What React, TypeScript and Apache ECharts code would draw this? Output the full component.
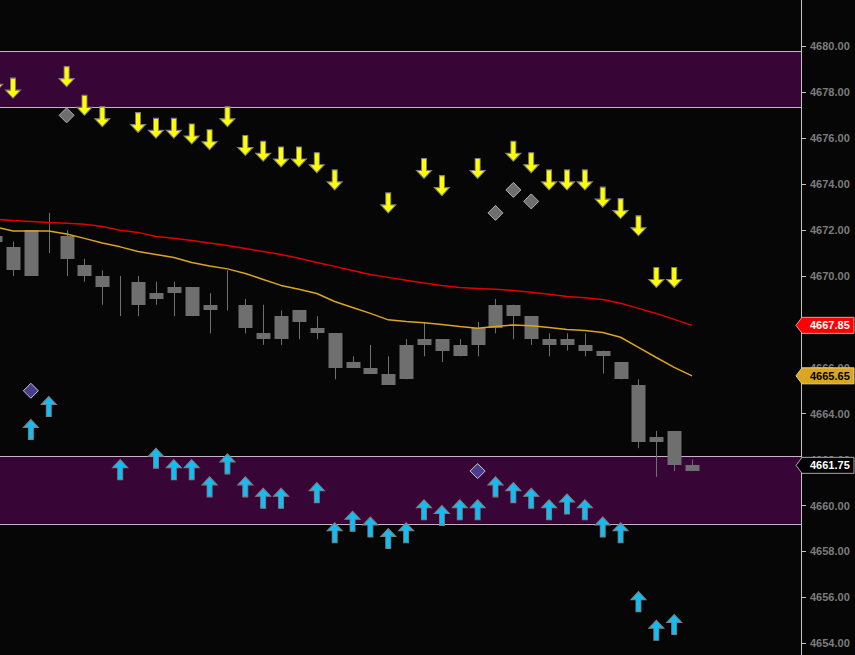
import React, { useEffect, useRef } from "react";
import * as echarts from "echarts";

// Index of the first (partially visible) candle
const FIRST_INDEX = -1;

// [open, close, low, high] per bar, starting at FIRST_INDEX
const candles: number[][] = [
  [4671.75, 4671.5, 4671.25, 4672.0],
  [4671.25, 4670.25, 4670.0, 4671.5],
  [4670.0, 4672.0, 4670.0, 4672.0],
  [4672.0, 4672.0, 4671.0, 4672.75],
  [4671.75, 4670.75, 4670.0, 4672.0],
  [4670.5, 4670.0, 4669.75, 4670.75],
  [4670.0, 4669.5, 4668.75, 4670.25],
  [4669.25, 4669.25, 4668.25, 4670.0],
  [4669.75, 4668.75, 4668.25, 4670.0],
  [4669.25, 4669.0, 4668.75, 4669.75],
  [4669.5, 4669.25, 4668.25, 4669.75],
  [4669.5, 4668.25, 4668.25, 4669.5],
  [4668.75, 4668.5, 4667.5, 4669.25],
  [4669.0, 4669.0, 4668.5, 4670.25],
  [4668.75, 4667.75, 4667.5, 4669.0],
  [4667.5, 4667.25, 4667.0, 4668.75],
  [4668.25, 4667.25, 4667.0, 4668.5],
  [4668.5, 4668.0, 4667.25, 4668.5],
  [4667.75, 4667.5, 4667.25, 4668.25],
  [4667.5, 4666.0, 4665.5, 4667.5],
  [4666.25, 4666.0, 4666.0, 4666.5],
  [4666.0, 4665.75, 4665.75, 4667.0],
  [4665.75, 4665.25, 4665.25, 4666.5],
  [4665.5, 4667.0, 4665.5, 4667.25],
  [4667.25, 4667.0, 4666.5, 4668.0],
  [4667.25, 4666.75, 4666.25, 4667.25],
  [4667.0, 4666.5, 4666.5, 4667.25],
  [4667.0, 4667.75, 4666.5, 4668.0],
  [4667.75, 4668.75, 4667.5, 4669.0],
  [4668.75, 4668.25, 4667.25, 4668.75],
  [4668.25, 4667.25, 4667.0, 4668.25],
  [4667.25, 4667.0, 4666.5, 4667.5],
  [4667.25, 4667.0, 4666.75, 4667.5],
  [4667.0, 4666.75, 4666.5, 4667.5],
  [4666.75, 4666.5, 4665.75, 4666.75],
  [4666.25, 4665.5, 4665.5, 4666.25],
  [4665.25, 4662.75, 4662.5, 4665.5],
  [4663.0, 4662.75, 4661.25, 4663.25],
  [4663.25, 4661.75, 4661.5, 4663.25],
  [4661.5, 4661.75, 4661.5, 4662.0],
];

const maRed = [
  4672.47, 4672.42, 4672.38, 4672.33, 4672.3, 4672.25, 4672.16, 4671.99, 4671.9, 4671.72,
  4671.64, 4671.55, 4671.44, 4671.33, 4671.2, 4671.07, 4670.94, 4670.77, 4670.59, 4670.42,
  4670.24, 4670.07, 4669.94, 4669.81, 4669.7, 4669.59, 4669.5, 4669.46, 4669.42, 4669.37,
  4669.29, 4669.2, 4669.11, 4669.05, 4668.98, 4668.81, 4668.59, 4668.37, 4668.11, 4667.85,
];

const maOrange = [
  4672.14, 4671.96, 4671.96, 4671.96, 4671.83, 4671.64, 4671.44, 4671.27, 4671.07, 4670.94,
  4670.81, 4670.59, 4670.44, 4670.31, 4670.11, 4669.85, 4669.59, 4669.42, 4669.24, 4668.89,
  4668.63, 4668.37, 4668.09, 4668.02, 4667.96, 4667.89, 4667.8, 4667.72, 4667.8, 4667.87,
  4667.83, 4667.76, 4667.67, 4667.63, 4667.54, 4667.33, 4666.89, 4666.45, 4666.02, 4665.65,
];

// [bar index, price at arrow tip]
const downArrows: number[][] = [
  [-1, 4678.0], [0, 4677.75], [3, 4678.25], [4, 4677.0], [5, 4676.5], [7, 4676.25],
  [8, 4676.0], [9, 4676.0], [10, 4675.75], [11, 4675.5], [12, 4676.5], [13, 4675.25],
  [14, 4675.0], [15, 4674.75], [16, 4674.75], [17, 4674.5], [18, 4673.75], [21, 4672.75],
  [23, 4674.25], [24, 4673.5], [26, 4674.25], [28, 4675.0], [29, 4674.5], [30, 4673.75],
  [31, 4673.75], [32, 4673.75], [33, 4673.0], [34, 4672.5], [35, 4671.75], [36, 4669.5],
  [37, 4669.5],
];

const upArrows: number[][] = [
  [1, 4663.75], [2, 4664.75], [6, 4662.0], [8, 4662.5], [9, 4662.0], [10, 4662.0],
  [11, 4661.25], [12, 4662.25], [13, 4661.25], [14, 4660.75], [15, 4660.75], [17, 4661.0],
  [18, 4659.25], [19, 4659.75], [20, 4659.5], [21, 4659.0], [22, 4659.25], [23, 4660.25],
  [24, 4660.0], [25, 4660.25], [26, 4660.25], [27, 4661.25], [28, 4661.0], [29, 4660.75],
  [30, 4660.25], [31, 4660.5], [32, 4660.25], [33, 4659.5], [34, 4659.25], [35, 4656.25],
  [36, 4655.0], [37, 4655.25],
];

const grayDiamonds: number[][] = [[3, 4677.0], [27, 4672.75], [28, 4673.75], [29, 4673.25]];
const purpleDiamonds: number[][] = [[1, 4665.0], [26, 4661.5]];

// [low, high] of the shaded zones
const zones: number[][] = [
  [4677.35, 4679.8],
  [4659.2, 4662.15],
];

const yTicks = [4654, 4656, 4658, 4660, 4662, 4664, 4666, 4668, 4670, 4672, 4674, 4676, 4678, 4680];

const Y_MIN = 4653.486;
const Y_MAX = 4682.026;
const X_MIN = -0.7275;
const X_MAX = 44.096;

const DOWN_ARROW = "path://M5,0 L10,0 L10,12 L15,12 L7.5,20 L0,12 L5,12 Z";
const UP_ARROW = "path://M7.5,0 L15,8 L10,8 L10,20 L5,20 L5,8 L0,8 Z";

const FONT = "'Liberation Sans', Arial, sans-serif";

export default function App() {
  const ref = useRef<HTMLDivElement>(null);

  useEffect(() => {
    if (!ref.current) return;
    const chart = echarts.init(ref.current, undefined, { renderer: "svg" });

    const candleData = candles.map((c, k) => [FIRST_INDEX + k, c[0], c[1], c[2], c[3]]);
    const redData = maRed.map((v, k) => [FIRST_INDEX + k, v]);
    const orangeData = maOrange.map((v, k) => [FIRST_INDEX + k, v]);

    const option: any = {
      animation: false,
      backgroundColor: "#060606",
      grid: { left: 0, right: 54, top: 0, bottom: 0, containLabel: false },
      xAxis: {
        type: "value",
        min: X_MIN,
        max: X_MAX,
        show: false,
        splitLine: { show: false },
      },
      yAxis: {
        type: "value",
        position: "right",
        min: Y_MIN,
        max: Y_MAX,
        axisLine: { show: true, onZero: false, lineStyle: { color: "#c4c4c4", width: 1 } },
        axisTick: { show: true, length: 5, lineStyle: { color: "#c4c4c4" }, customValues: yTicks },
        axisLabel: {
          color: "#7c7c7c",
          fontSize: 11,
          fontWeight: "bold",
          fontFamily: FONT,
          margin: 9,
          customValues: yTicks,
          formatter: (v: number) => v.toFixed(2),
        },
        splitLine: { show: false },
      },
      series: [
        {
          type: "custom",
          name: "candles",
          z: 2,
          clip: false,
          data: candleData,
          encode: { x: 0, y: [1, 2, 3, 4] },
          renderItem: (params: any, api: any) => {
            const x = api.value(0);
            const pO = api.coord([x, api.value(1)]);
            const pC = api.coord([x, api.value(2)]);
            const pL = api.coord([x, api.value(3)]);
            const pH = api.coord([x, api.value(4)]);
            const w = Math.round(api.size([1, 0])[0] * 0.78);
            const cx = Math.round(pO[0]);
            const top = Math.round(Math.min(pO[1], pC[1]));
            const bot = Math.round(Math.max(pO[1], pC[1]));
            const children: any[] = [
              {
                type: "line",
                shape: { x1: cx + 0.5, y1: pH[1], x2: cx + 0.5, y2: pL[1] },
                style: { stroke: "#6f6f6f", lineWidth: 1 },
              },
            ];
            if (bot - top > 0) {
              children.push({
                type: "rect",
                shape: { x: cx - w / 2 + 0.5, y: top, width: w, height: bot - top },
                style: { fill: "#6f6f6f" },
              });
            }
            return { type: "group", children };
          },
          markArea: {
            silent: true,
            z: 1,
            itemStyle: { color: "#380636", borderWidth: 0 },
            data: zones.map((z) => [{ yAxis: z[0] }, { yAxis: z[1] }]),
          },
          markLine: {
            silent: true,
            z: 1,
            symbol: "none",
            label: { show: false },
            lineStyle: { color: "#c4b4c4", width: 1, type: "solid" },
            data: zones.flatMap((z) => [{ yAxis: z[0] }, { yAxis: z[1] }]),
          },
        },
        {
          type: "line",
          name: "maRed",
          z: 3,
          clip: false,
          data: redData,
          showSymbol: false,
          lineStyle: { color: "#e00000", width: 1.5 },
        },
        {
          type: "line",
          name: "maOrange",
          z: 3,
          clip: false,
          data: orangeData,
          showSymbol: false,
          lineStyle: { color: "#daa520", width: 1.5 },
        },
        {
          type: "scatter",
          name: "down",
          z: 4,
          clip: false,
          data: downArrows,
          symbol: DOWN_ARROW,
          symbolSize: [15, 20],
          symbolOffset: [0, -10],
          itemStyle: { color: "#ffff00", borderColor: "#808080", borderWidth: 1, opacity: 1 },
        },
        {
          type: "scatter",
          name: "up",
          z: 4,
          clip: false,
          data: upArrows,
          symbol: UP_ARROW,
          symbolSize: [15, 20],
          symbolOffset: [0, 10],
          itemStyle: { color: "#10bdf5", borderColor: "#808080", borderWidth: 1, opacity: 1 },
        },
        {
          type: "scatter",
          name: "grayDiamonds",
          z: 4,
          clip: false,
          data: grayDiamonds,
          symbol: "diamond",
          symbolSize: [15, 15],
          itemStyle: { color: "#6e6e6e", borderColor: "#b0b0b0", borderWidth: 1, opacity: 1 },
        },
        {
          type: "scatter",
          name: "purpleDiamonds",
          z: 4,
          clip: false,
          data: purpleDiamonds,
          symbol: "diamond",
          symbolSize: [15, 15],
          itemStyle: { color: "#4b3d8c", borderColor: "#c8c8d8", borderWidth: 1, opacity: 1 },
        },
      ],
    };

    chart.setOption(option);

    // Price tags on the right axis, positioned via the y scale
    const lastClose = candles[candles.length - 1][1];
    const tags = [
      { value: maRed[maRed.length - 1], fill: "#ff0000", stroke: "#ff9090", color: "#ffffff" },
      { value: maOrange[maOrange.length - 1], fill: "#daa520", stroke: "#f0d080", color: "#000000" },
      { value: lastClose, fill: "#000000", stroke: "#a8a8a8", color: "#ffffff" },
    ];
    const axisX = 801;
    const graphics: any[] = [];
    tags.forEach((t) => {
      const y = chart.convertToPixel({ yAxisIndex: 0 } as any, t.value) as unknown as number;
      graphics.push({
        type: "polygon",
        z: 100,
        shape: {
          points: [
            [axisX - 5, y],
            [axisX + 1, y - 8],
            [854, y - 8],
            [854, y + 8],
            [axisX + 1, y + 8],
          ],
        },
        style: { fill: t.fill, stroke: t.stroke, lineWidth: 1 },
      });
      graphics.push({
        type: "text",
        z: 101,
        x: 810,
        y: y,
        style: {
          text: t.value.toFixed(2),
          fill: t.color,
          font: `bold 11px ${FONT}`,
          verticalAlign: "middle",
          align: "left",
        },
      });
    });
    chart.setOption({ graphic: graphics });

    return () => chart.dispose();
  }, []);

  return (
    <div
      ref={ref}
      style={{ position: "absolute", left: 0, top: 0, width: 855, height: 655 }}
    />
  );
}
